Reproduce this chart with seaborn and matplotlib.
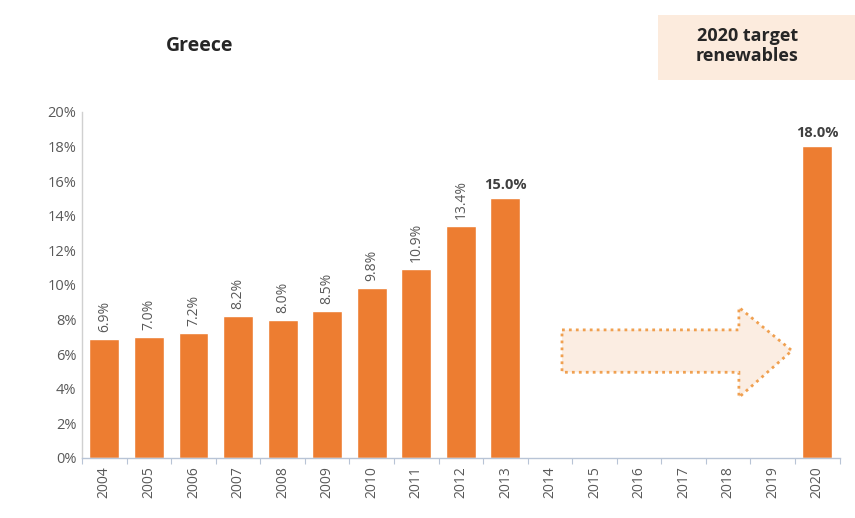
import numpy as np
import pandas as pd
import matplotlib
matplotlib.use("Agg")
import matplotlib.pyplot as plt
from matplotlib.patches import Polygon, Rectangle
from matplotlib.ticker import FixedLocator
import seaborn as sns

years = [str(y) for y in range(2004, 2021)]
share = [6.9, 7.0, 7.2, 8.2, 8.0, 8.5, 9.8, 10.9, 13.4, 15.0,
         np.nan, np.nan, np.nan, np.nan, np.nan, np.nan, 18.0]
highlight_years = ["2013", "2020"]
y_ticks = [0, 2, 4, 6, 8, 10, 12, 14, 16, 18, 20]

sns.set_theme(style="white")
plt.rcParams["font.family"] = ["Open Sans", "DejaVu Sans"]

orange = "#ED7D31"
text_grey = "#595959"

df = pd.DataFrame({"year": years, "share": share})

fig = plt.figure(figsize=(8.55, 5.18), dpi=100)
ax = fig.add_axes([0.096, 0.116, 0.886, 0.668])

sns.barplot(data=df, x="year", y="share", order=years, color=orange,
            saturation=1, width=0.67, ax=ax)

ax.set_ylim(0, 20)
ax.set_xlim(-0.5, len(years) - 0.5)
ax.set_yticks(y_ticks)
ax.set_yticklabels([f"{t}%" for t in y_ticks], color=text_grey, fontsize=10.5)
ax.set_xticks(range(len(years)))
ax.set_xticklabels(years, rotation=90, color=text_grey, fontsize=10)
ax.tick_params(axis="x", length=0, pad=6)
ax.tick_params(axis="y", length=0, pad=4)
ax.xaxis.set_minor_locator(FixedLocator(np.arange(-0.5, len(years), 1.0)))
ax.tick_params(axis="x", which="minor", length=4, color="#b8c4d6", width=0.8,
               bottom=True)
ax.set_xlabel("")
ax.set_ylabel("")

for side in ("top", "right"):
    ax.spines[side].set_visible(False)
ax.spines["left"].set_color("#d0d0d0")
ax.spines["bottom"].set_color("#b8c4d6")
ax.spines["left"].set_linewidth(1.0)
ax.spines["bottom"].set_linewidth(1.0)

# value labels above each bar
for i, (yr, v) in enumerate(zip(years, share)):
    if np.isnan(v):
        continue
    if yr in highlight_years:
        ax.text(i, v + 0.35, f"{v:.1f}%", ha="center", va="bottom",
                fontsize=10.5, fontweight="bold", color="#404040")
    else:
        ax.text(i, v + 0.4, f"{v:.1f}%", ha="center", va="bottom",
                rotation=90, fontsize=10, color=text_grey)

# dotted arrow pointing to the 2020 target
arrow_pts = [(10.27, 7.4), (14.24, 7.4), (14.24, 8.7), (15.43, 6.2),
             (14.24, 3.5), (14.24, 4.95), (10.27, 4.95)]
ax.add_patch(Polygon(arrow_pts, closed=True, facecolor="#FBEDE2",
                     edgecolor="#F0A050", linestyle=(0, (1, 1.5)),
                     linewidth=2.0, zorder=3))

fig.text(0.234, 0.912, "Greece", ha="center", va="center", fontsize=14,
         fontweight="bold", color="#262626")

# shaded caption box for the target
fig.patches.append(Rectangle((0.770, 0.846), 0.23, 0.125,
                             transform=fig.transFigure, facecolor="#FCEBDD",
                             edgecolor="none", zorder=0))
fig.text(0.874, 0.912, "2020 target\nrenewables", ha="center", va="center",
         fontsize=13, fontweight="bold", color="#262626", linespacing=1.15)

fig.savefig("out.png", dpi=100, facecolor="white")
